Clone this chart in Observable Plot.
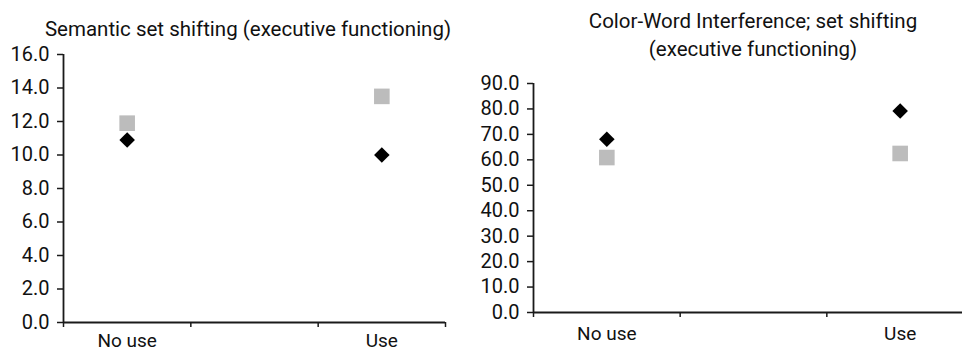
<!DOCTYPE html>
<html>
<head>
<meta charset="utf-8">
<script src="https://cdn.jsdelivr.net/npm/d3@7"></script>
<script src="https://cdn.jsdelivr.net/npm/@observablehq/plot@0.6"></script>
<style>
  html, body { margin: 0; padding: 0; background: #fff; overflow: hidden; }
  #wrap { position: relative; width: 962px; height: 354px; overflow: hidden; font-family: Roboto, "Liberation Sans", sans-serif; color: #111; }
  .panel { position: absolute; top: 0; }
  .title { position: absolute; font-size: 20.5px; text-align: center; line-height: 28px; color: #111; white-space: nowrap; }
  svg { overflow: hidden; }
</style>
</head>
<body>
<div id="wrap">
  <div id="left" class="panel" style="left:0px"></div>
  <div id="right" class="panel" style="left:480px"></div>
  <div class="title" style="left:0px; width:496px; top:15px;">Semantic set shifting (executive functioning)</div>
  <div class="title" style="left:533px; width:440px; top:7px;">Color-Word Interference; set shifting<br>(executive functioning)</div>
</div>
<script>
// Categories on the x axis (middle band has no label)
const categories = ["No use", "", "Use"];
// Groups plotted (index into categories)
const groups = ["No use", "Use"];

// Left panel: Semantic set shifting
const leftGray = [11.9, 13.5];    // gray squares
const leftBlack = [10.9, 10.0];   // black diamonds
const leftTicks = [0, 2, 4, 6, 8, 10, 12, 14, 16];

// Right panel: Color-Word Interference
const rightGray = [60.9, 62.5];
const rightBlack = [68.1, 79.2];
const rightTicks = [0, 10, 20, 30, 40, 50, 60, 70, 80, 90];

const boundaryTicks = [0, 1, 2, 3];
const labelTicks = [0.5, 1.5, 2.5];

function rows(vals) {
  return groups.map((g, i) => ({pos: categories.indexOf(g) + 0.5, value: vals[i]}));
}

function panel({width, height, marginLeft, marginTop, marginBottom, marginRight, xRange, yMax, yTicks, gray, black, labelPad}) {
  const axisColor = "#1a1a1a";
  return Plot.plot({
    width, height, marginLeft, marginTop, marginBottom, marginRight,
    style: {fontFamily: "Roboto, 'Liberation Sans', sans-serif", fontSize: "20px", color: "#111", background: "#fff", overflow: "hidden"},
    x: {domain: [0, 3], range: xRange},
    y: {domain: [0, yMax]},
    marks: [
      Plot.axisY({ticks: yTicks, tickSize: 6, tickPadding: 8, tickFormat: d3.format(".1f"), stroke: axisColor, strokeWidth: 1.5, fill: "#111", label: null}),
      Plot.axisX({ticks: boundaryTicks, tickSize: 5, tickFormat: () => "", stroke: axisColor, strokeWidth: 1.5, label: null}),
      Plot.axisX({ticks: labelTicks, tickSize: 0, tickPadding: labelPad, fontSize: 19, tickFormat: v => categories[Math.floor(v)], fill: "#111", label: null}),
      Plot.ruleX([0], {y1: 0, y2: yMax, stroke: axisColor, strokeWidth: 1.8}),
      Plot.ruleY([0], {x1: 0, x2: 3, stroke: axisColor, strokeWidth: 1.8}),
      Plot.dot(rows(gray), {x: "pos", y: "value", symbol: "square", r: 8.8, fill: "#bcbcbc", stroke: null}),
      Plot.dot(rows(black), {x: "pos", y: "value", symbol: "diamond2", r: 7.0, fill: "#000", stroke: null})
    ]
  });
}

document.getElementById("left").append(panel({
  width: 480, height: 354, marginLeft: 63, marginTop: 54, marginBottom: 32, marginRight: 35,
  xRange: [63, 445], yMax: 16, yTicks: leftTicks, gray: leftGray, black: leftBlack, labelPad: 11
}));

document.getElementById("right").append(panel({
  width: 482, height: 354, marginLeft: 53, marginTop: 83, marginBottom: 42, marginRight: 0,
  xRange: [53, 493], yMax: 90, yTicks: rightTicks, gray: rightGray, black: rightBlack, labelPad: 14
}));
</script>
</body>
</html>
